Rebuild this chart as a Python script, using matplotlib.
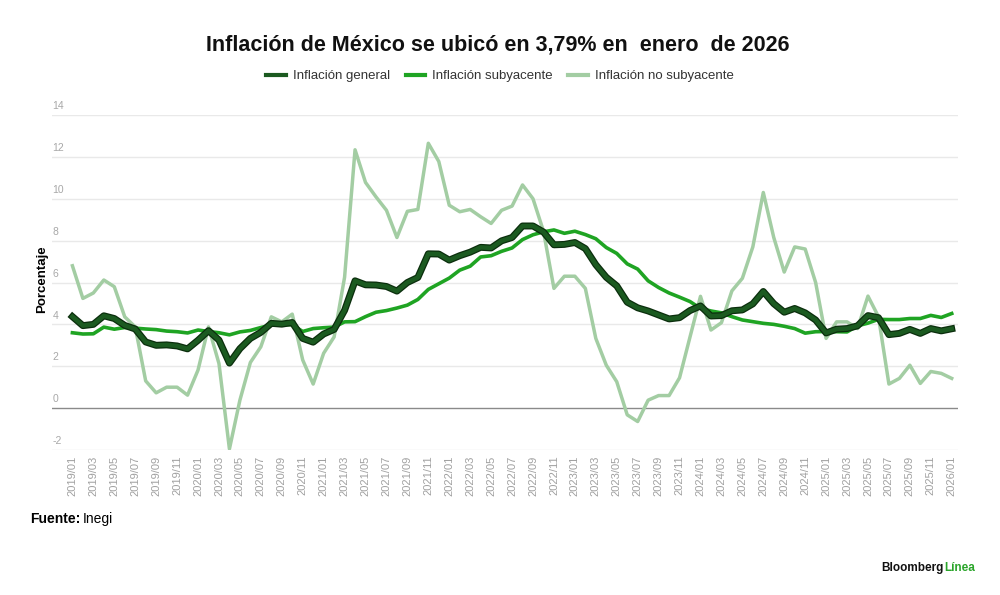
import matplotlib
matplotlib.use("Agg")
import matplotlib.pyplot as plt
import matplotlib.patheffects as pe

# Monthly data, 2019/01 to 2026/01 (annual inflation, %)
months = [f"{y}/{m:02d}" for y in range(2019, 2027) for m in range(1, 13)][:85]

general = [4.37, 3.94, 4.00, 4.41, 4.28, 3.95, 3.78, 3.16, 3.00, 3.02, 2.97, 2.83,
           3.24, 3.70, 3.25, 2.15, 2.84, 3.33, 3.62, 4.05, 4.01, 4.09, 3.33, 3.15,
           3.54, 3.76, 4.67, 6.08, 5.89, 5.88, 5.81, 5.59, 6.00, 6.24, 7.37, 7.36,
           7.07, 7.28, 7.45, 7.68, 7.65, 7.99, 8.15, 8.70, 8.70, 8.41, 7.80, 7.82,
           7.91, 7.62, 6.85, 6.25, 5.84, 5.06, 4.79, 4.64, 4.45, 4.26, 4.32, 4.66,
           4.88, 4.40, 4.42, 4.65, 4.69, 4.98, 5.57, 4.99, 4.58, 4.76, 4.55, 4.21,
           3.59, 3.77, 3.80, 3.93, 4.42, 4.32, 3.51, 3.57, 3.76, 3.57, 3.80, 3.69,
           3.79]

subyacente = [3.60, 3.54, 3.55, 3.87, 3.77, 3.85, 3.82, 3.78, 3.75, 3.68, 3.65, 3.59,
              3.73, 3.66, 3.60, 3.50, 3.64, 3.71, 3.85, 3.97, 3.99, 3.98, 3.66, 3.80,
              3.84, 3.87, 4.12, 4.13, 4.37, 4.58, 4.66, 4.78, 4.92, 5.19, 5.67, 5.94,
              6.21, 6.59, 6.78, 7.22, 7.28, 7.49, 7.65, 8.05, 8.28, 8.42, 8.51, 8.35,
              8.45, 8.29, 8.09, 7.67, 7.39, 6.89, 6.64, 6.08, 5.76, 5.50, 5.30, 5.09,
              4.76, 4.64, 4.55, 4.37, 4.21, 4.13, 4.05, 4.00, 3.91, 3.80, 3.58, 3.65,
              3.66, 3.65, 3.64, 3.93, 4.06, 4.24, 4.23, 4.23, 4.28, 4.28, 4.43, 4.33,
              4.52]

no_subyacente = [6.80, 5.24, 5.50, 6.12, 5.80, 4.36, 3.88, 1.30, 0.73, 1.00, 1.00, 0.62,
                 1.82, 3.88, 2.13, -1.95, 0.38, 2.18, 2.93, 4.36, 4.12, 4.49, 2.30, 1.15,
                 2.62, 3.40, 6.25, 12.34, 10.78, 10.09, 9.45, 8.15, 9.40, 9.49, 12.65, 11.78,
                 9.69, 9.38, 9.49, 9.14, 8.82, 9.45, 9.65, 10.66, 10.00, 8.45, 5.72, 6.30,
                 6.30, 5.72, 3.33, 2.05, 1.26, -0.32, -0.64, 0.38, 0.60, 0.60, 1.45, 3.40,
                 5.34, 3.73, 4.08, 5.60, 6.20, 7.70, 10.30, 8.15, 6.50, 7.70, 7.60, 6.00,
                 3.33, 4.12, 4.12, 3.80, 5.35, 4.37, 1.15, 1.42, 2.05, 1.18, 1.75, 1.66,
                 1.42]

yticks = [-2, 0, 2, 4, 6, 8, 10, 12, 14]

x = list(range(len(months)))

fig = plt.figure(figsize=(10, 5.95), dpi=100)
plt.rcParams['font.family'] = ['Liberation Sans', 'DejaVu Sans']

ax = fig.add_axes([0.052, 0.2437, 0.906, 0.563])
ax.set_xlim(-1.95, 84.6)
ax.set_ylim(-2, 14)

for s in ax.spines.values():
    s.set_visible(False)

for v in yticks:
    if v == 0:
        ax.axhline(v, color='#8a8a8a', lw=1.0, zorder=1)
    else:
        ax.axhline(v, color='#e9e9e9', lw=1.0, zorder=0)
    ax.text(-1.9, v + 0.18, str(v), color='#a8a8a8', fontsize=7.5,
            ha='left', va='bottom')

ax.set_yticks([])
ax.set_xticks(x[::2])
ax.set_xticklabels(months[::2], rotation=90, fontsize=8, color='#a0a0a0')
ax.tick_params(axis='x', length=0, pad=4)

ax.plot(x, no_subyacente, color='#a3cda3', lw=2.5, zorder=2,
        label='Inflación no subyacente')
ax.plot(x, subyacente, color='#1fa423', lw=2.6, zorder=3,
        label='Inflación subyacente')
ax.plot(x, general, color='#1b5a20', lw=3.2, zorder=4,
        path_effects=[pe.Stroke(linewidth=5, foreground='#0b2e0d'), pe.Normal()],
        label='Inflación general')

ax.set_ylabel('Porcentaje', fontsize=9.5, fontweight='bold', labelpad=2)
ax.yaxis.set_label_coords(-0.004, 0.51)

handles, labels = ax.get_legend_handles_labels()
leg = fig.legend(handles[::-1], labels[::-1], loc='center', ncol=3,
                 bbox_to_anchor=(0.5, 0.872), frameon=False, fontsize=9.5,
                 handlelength=1.5, columnspacing=1.2, handletextpad=0.5)
for t in leg.get_texts():
    t.set_color('#333333')
for h in leg.get_lines():
    h.set_linewidth(3)
    h.set_path_effects([])

fig.text(0.498, 0.924, 'Inflación de México se ubicó en 3,79% en  enero  de 2026',
         ha='center', va='center', fontsize=15.5, fontweight='bold', color='#111111')

fig.text(0.03, 0.127, 'Fuente:', fontsize=10, fontweight='bold', ha='left', va='center')
fig.text(0.083, 0.127, 'Inegi', fontsize=10, ha='left', va='center')

fig.text(0.944, 0.045, 'Bloomberg', fontsize=8.5, fontweight='bold', ha='right',
         va='center', color='#111111')
fig.text(0.975, 0.045, 'Línea', fontsize=8.5, fontweight='bold', ha='right',
         va='center', color='#2aa52a')

fig.savefig('out.png', dpi=100)
